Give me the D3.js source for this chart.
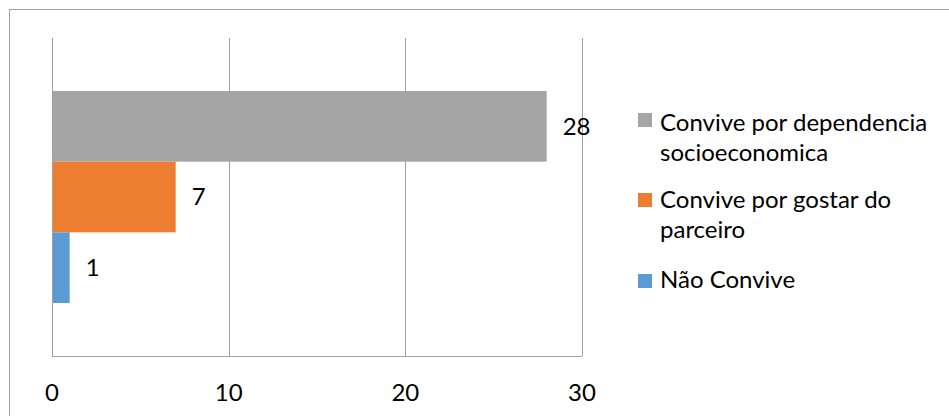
<!DOCTYPE html>
<html>
<head>
<meta charset="utf-8">
<script src="https://cdn.jsdelivr.net/npm/d3@7"></script>
<style>
  body { margin: 0; background: #fff; }
  text { font-family: Lato, "Noto Sans", sans-serif; fill: #000; }
</style>
</head>
<body>
<div class="canvas"></div>
<script>
// chart data
const series = ["Convive por dependencia socioeconomica", "Convive por gostar do parceiro", "Não Convive"];
const values = [28, 7, 1];
const colors = ["#A5A5A5", "#ED7D31", "#5B9BD5"];
const legendLines = [["Convive por dependencia", "socioeconomica"], ["Convive por gostar do", "parceiro"], ["Não Convive"]];
const xTicks = [0, 10, 20, 30];

const width = 949, height = 416;
const margin = {top: 38, left: 52, right: 367, bottom: 60};
const fontSize = 24;

const svg = d3.select(".canvas")
  .append("svg")
    .attr("width", width)
    .attr("height", height);

// outer chart border (cut off at right and bottom)
svg.append("rect")
    .attr("x", 9.5).attr("y", 9.5)
    .attr("width", width).attr("height", height)
    .attr("fill", "none")
    .attr("stroke", "#a0a0a0");

const plotW = width - margin.left - margin.right;
const plotH = height - margin.top - margin.bottom;

const graph = svg.append("g")
    .attr("transform", `translate(${margin.left},${margin.top})`);

const x = d3.scaleLinear().domain([0, 30]).range([0, plotW]);

// one category, three series -> group band, then series band
const group = d3.scaleBand().domain(["all"]).range([0, plotH]).paddingOuter(0.25);
const y = d3.scaleBand().domain(series).range([group("all"), group("all") + group.bandwidth()]);

// gridlines
graph.selectAll(".grid")
  .data(xTicks)
  .enter().append("line")
    .attr("x1", d => Math.round(x(d)) + 0.5)
    .attr("x2", d => Math.round(x(d)) + 0.5)
    .attr("y1", 0)
    .attr("y2", plotH)
    .attr("stroke", "#a0a0a0");

// bottom axis line
graph.append("line")
    .attr("x1", 0).attr("x2", plotW)
    .attr("y1", plotH + 0.5).attr("y2", plotH + 0.5)
    .attr("stroke", "#a0a0a0");

graph.selectAll(".bar")
  .data(series)
  .enter().append("rect")
    .attr("x", x(0) + 1)
    .attr("y", d => y(d))
    .attr("width", (d, i) => x(values[i]) - x(0) - 1)
    .attr("height", y.bandwidth())
    .attr("fill", (d, i) => colors[i]);

// value labels
graph.selectAll(".val")
  .data(series)
  .enter().append("text")
    .attr("x", (d, i) => x(values[i]) + 16)
    .attr("y", d => y(d) + y.bandwidth() / 2)
    .attr("dy", "0.35em")
    .attr("font-size", fontSize)
    .text((d, i) => values[i]);

// tick labels
graph.selectAll(".tick-label")
  .data(xTicks)
  .enter().append("text")
    .attr("x", d => x(d))
    .attr("y", plotH + 45)
    .attr("text-anchor", "middle")
    .attr("font-size", fontSize)
    .text(d => d);

// legend
const legendTop = [113, 193, 274];
const legendBase = [131, 208, 288];
const legend = svg.append("g");
legendLines.forEach((lines, i) => {
  legend.append("rect")
    .attr("x", 638).attr("y", legendTop[i])
    .attr("width", 14).attr("height", 14)
    .attr("fill", colors[i]);
  lines.forEach((t, j) => {
    legend.append("text")
      .attr("x", 660)
      .attr("y", legendBase[i] + j * 30)
      .attr("font-size", fontSize)
      .text(t);
  });
});
</script>
</body>
</html>
